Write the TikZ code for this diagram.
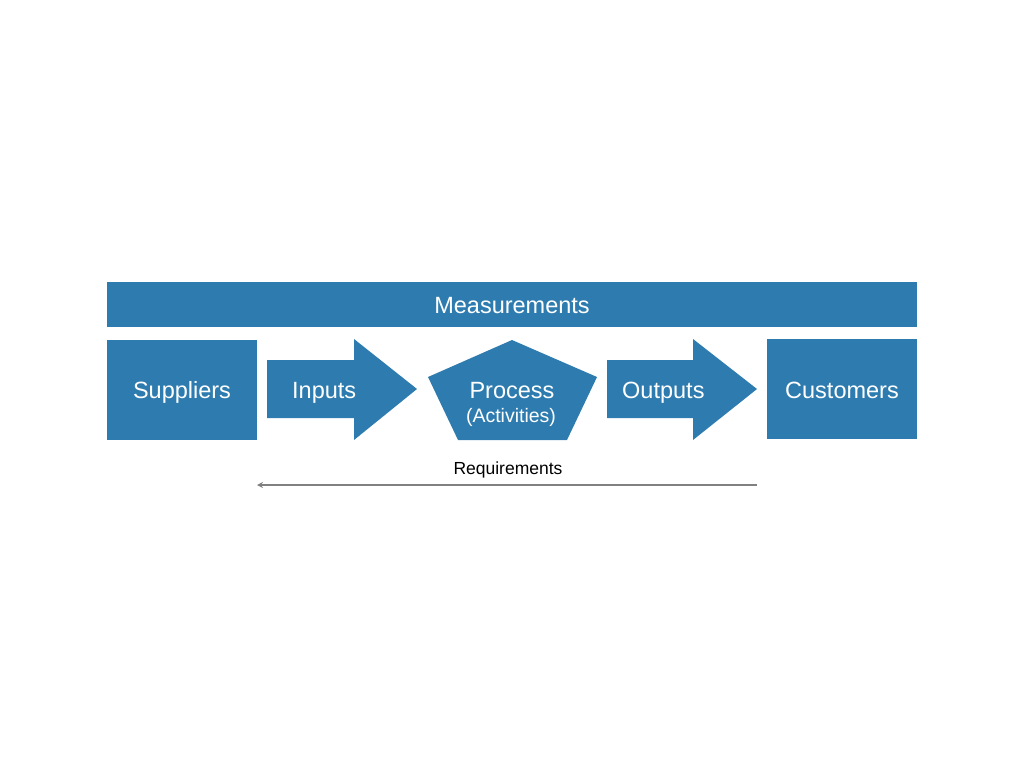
\documentclass[tikz,border=0pt]{standalone}
\usepackage{fontspec}
\setmainfont{Liberation Sans}
\usetikzlibrary{arrows.meta}
\definecolor{sipoc}{RGB}{46,124,175}
\definecolor{reqgray}{RGB}{128,128,128}
\tikzset{
  blockfill/.style={fill=sipoc, draw=none},
  bigtext/.style={text=white, font=\fontsize{23.5}{26}\selectfont, inner sep=0pt, anchor=base},
  smalltext/.style={text=white, font=\fontsize{19.5}{21}\selectfont, inner sep=0pt, anchor=base},
  reqtext/.style={text=black, font=\fontsize{17.5}{19}\selectfont, inner sep=0pt, anchor=base},
  reqline/.style={draw=reqgray, line width=2pt, -{Stealth[length=6pt,width=6pt]}}
}
\begin{document}
\begin{tikzpicture}[x=1pt,y=-1pt]
\useasboundingbox (0,0) rectangle (1024,768);
% Measurements bar
\fill[blockfill] (107,282) rectangle (917,327);
\node[bigtext] (meas) at (512,313) {Measurements};
% Suppliers
\fill[blockfill] (107,340) rectangle (257,440);
\node[bigtext] (sup) at (182,398) {Suppliers};
% Inputs arrow
\fill[blockfill] (267,360) -- (354,360) -- (354,339) -- (417,389) -- (354,440) -- (354,418) -- (267,418) -- cycle;
\node[bigtext, anchor=base west] (inp) at (292,398) {Inputs};
% Process pentagon
\fill[blockfill] (512,340) -- (597,377) -- (567,440) -- (458,440) -- (428,377) -- cycle;
\node[bigtext] (proc) at (512,398) {Process};
\node[smalltext] (act) at (511,422) {(Activities)};
% Outputs arrow
\fill[blockfill] (607,360) -- (693,360) -- (693,339) -- (757,389) -- (693,440) -- (693,418) -- (607,418) -- cycle;
\node[bigtext, anchor=base west] (outp) at (622,398) {Outputs};
% Customers
\fill[blockfill] (767,339) rectangle (917,439);
\node[bigtext] (cust) at (842,398) {Customers};
% Requirements
\node[reqtext] (req) at (508,474) {Requirements};
\coordinate (reqR) at (757,485);
\coordinate (reqL) at (257,485);
\draw[reqline] (reqR) -- (reqL);
\end{tikzpicture}
\end{document}
